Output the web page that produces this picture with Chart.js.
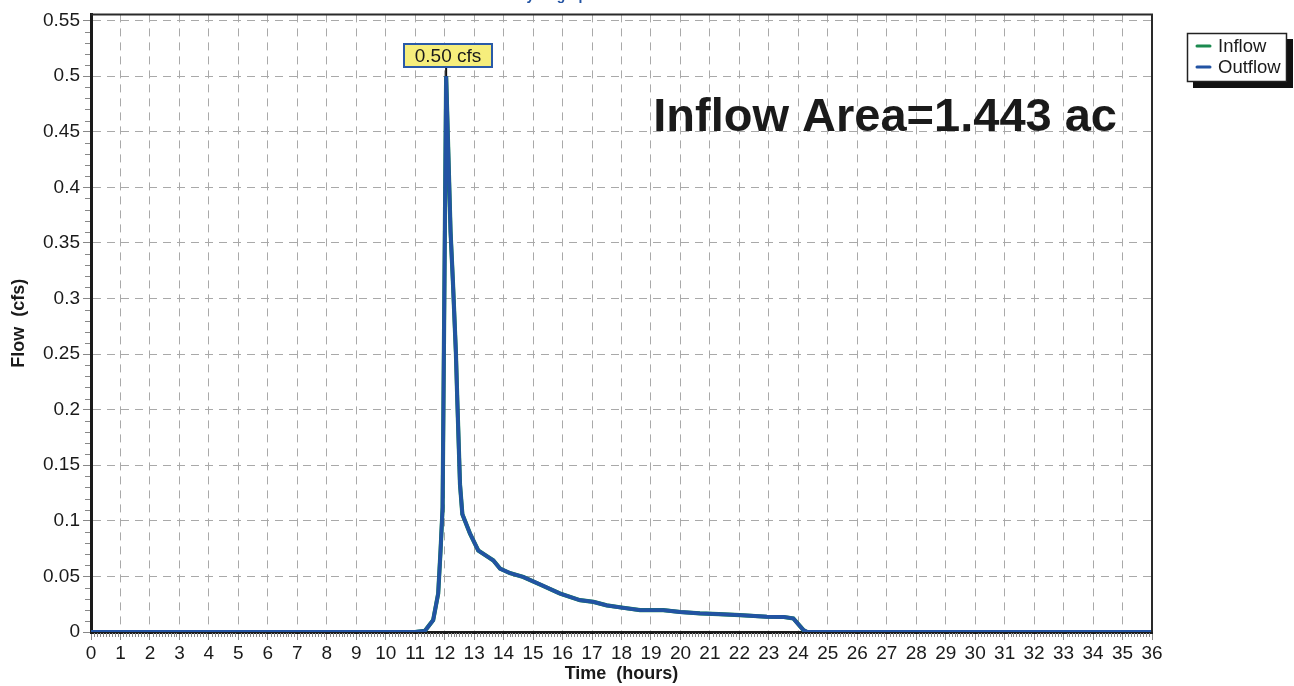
<!DOCTYPE html>
<html>
<head>
<meta charset="utf-8">
<script src="https://cdn.jsdelivr.net/npm/chart.js@4/dist/chart.umd.min.js"></script>
<style>
  html, body { margin: 0; padding: 0; background: #ffffff; }
  #wrap { position: relative; width: 1294px; height: 686px; }
  canvas { display: block; }
</style>
</head>
<body>
<div id="wrap"><canvas id="c" width="1294" height="686"></canvas></div>
<script>
// ---- data ----
const chartTitle = "Hydrograph";
const xTitle = "Time  (hours)";
const yTitle = "Flow  (cfs)";
const areaLabel = "Inflow Area=1.443 ac";
const peakLabel = "0.50 cfs";
const seriesNames = ["Inflow", "Outflow"];

const times = [0, 11.0, 11.33, 11.61, 11.78, 11.86, 11.93, 12.05, 12.2, 12.28, 12.38, 12.43, 12.52, 12.60, 12.86, 13.14, 13.5, 13.65, 13.88, 14.21, 14.67, 15.3, 15.91, 16.59, 17.05, 17.5, 18.0, 18.63, 19.42, 19.99, 20.66, 21.3, 22.02, 22.93, 23.5, 23.83, 24.17, 24.3, 36];
const inflow = [0, 0, 0.001, 0.0107, 0.0346, 0.073, 0.112, 0.50, 0.36, 0.315, 0.252, 0.2075, 0.133, 0.106, 0.0885, 0.0733, 0.067, 0.0644, 0.057, 0.053, 0.0495, 0.042, 0.0346, 0.0286, 0.0271, 0.024, 0.022, 0.0197, 0.0197, 0.018, 0.0167, 0.016, 0.0152, 0.0137, 0.0135, 0.0122, 0.0018, 0, 0];
const outflow = [0, 0, 0.001, 0.0107, 0.0346, 0.073, 0.112, 0.50, 0.36, 0.315, 0.252, 0.2075, 0.133, 0.106, 0.0885, 0.0733, 0.067, 0.0644, 0.057, 0.053, 0.0495, 0.042, 0.0346, 0.0286, 0.0271, 0.024, 0.022, 0.0197, 0.0197, 0.018, 0.0167, 0.016, 0.0152, 0.0137, 0.0135, 0.0122, 0.0018, 0, 0];

const xTicks = [0,1,2,3,4,5,6,7,8,9,10,11,12,13,14,15,16,17,18,19,20,21,22,23,24,25,26,27,28,29,30,31,32,33,34,35,36];
const yTicks = [0, 0.05, 0.1, 0.15, 0.2, 0.25, 0.3, 0.35, 0.4, 0.45, 0.5, 0.55];
const yTickLabels = ["0", "0.05", "0.1", "0.15", "0.2", "0.25", "0.3", "0.35", "0.4", "0.45", "0.5", "0.55"];

// ---- styles ----
const FONT = "'Liberation Sans', Arial, Helvetica, sans-serif";
const INFLOW_COLOR = "#1b8a4f";
const OUTFLOW_COLOR = "#2253a3";
const GRID_COLOR = "#a9a9a9";

const toPoints = (xs, ys) => xs.map((x, i) => ({ x: x, y: ys[i] }));

const extrasPlugin = {
  id: 'extras',
  afterDraw(chart) {
    const ctx = chart.ctx;
    const a = chart.chartArea;
    const xs = chart.scales.x, ys = chart.scales.y;
    ctx.save();

    // minor ticks x (every 0.1 h)
    ctx.strokeStyle = "#888";
    ctx.lineWidth = 1;
    ctx.beginPath();
    for (let i = 0; i <= 360; i++) {
      if (i % 10 === 0) continue;
      const px = Math.round(xs.getPixelForValue(i / 10)) + 0.5;
      ctx.moveTo(px, a.bottom + 1);
      ctx.lineTo(px, a.bottom + 5);
    }
    ctx.stroke();
    // minor ticks y (every 0.01)
    ctx.beginPath();
    for (let i = 0; i <= 55; i++) {
      if (i % 5 === 0) continue;
      const py = Math.round(ys.getPixelForValue(i / 100)) + 0.5;
      ctx.moveTo(a.left - 6, py);
      ctx.lineTo(a.left - 1, py);
    }
    ctx.stroke();

    // top & right frame
    ctx.strokeStyle = "#2a2a2a";
    ctx.lineWidth = 2;
    ctx.beginPath();
    ctx.moveTo(a.left, a.top);
    ctx.lineTo(a.right, a.top);
    ctx.lineTo(a.right, a.bottom);
    ctx.stroke();

    // partially visible title
    ctx.fillStyle = "#2253a3";
    ctx.font = "bold 14px " + FONT;
    ctx.textAlign = "center";
    ctx.textBaseline = "alphabetic";
    ctx.fillText(chartTitle, 556, 0);

    // area label
    ctx.fillStyle = "#1a1a1a";
    ctx.font = "bold 47px " + FONT;
    ctx.textAlign = "right";
    ctx.fillText(areaLabel, 1117, 131);

    // peak annotation
    let pk = 0;
    for (let i = 1; i < outflow.length; i++) if (outflow[i] > outflow[pk]) pk = i;
    const px = xs.getPixelForValue(times[pk]);
    const py = ys.getPixelForValue(outflow[pk]);
    const bw = 90, bh = 25;
    const bx = Math.round(px - bw / 2 + 2), by = Math.round(py - 8 - bh);
    ctx.strokeStyle = "#111";
    ctx.lineWidth = 2;
    ctx.beginPath();
    ctx.moveTo(px, by + bh);
    ctx.lineTo(px, py);
    ctx.stroke();
    ctx.fillStyle = "#f6ee7c";
    ctx.fillRect(bx, by, bw, bh);
    ctx.strokeStyle = "#2a5aa8";
    ctx.lineWidth = 2;
    ctx.strokeRect(bx + 1, by + 1, bw - 2, bh - 2);
    ctx.fillStyle = "#1a1a1a";
    ctx.font = "19px " + FONT;
    ctx.textAlign = "center";
    ctx.textBaseline = "middle";
    ctx.fillText(peakLabel, bx + bw / 2, by + bh / 2 + 1);

    // legend
    const lx = 1187, ly = 33, lw = 100, lh = 49;
    ctx.fillStyle = "#111";
    ctx.fillRect(lx + 6, ly + 6, lw, lh);
    ctx.fillStyle = "#fff";
    ctx.fillRect(lx, ly, lw, lh);
    ctx.strokeStyle = "#222";
    ctx.lineWidth = 1.5;
    ctx.strokeRect(lx + 0.5, ly + 0.5, lw - 1, lh - 1);
    const cols = [INFLOW_COLOR, OUTFLOW_COLOR];
    ctx.font = "18.5px " + FONT;
    ctx.textAlign = "left";
    ctx.textBaseline = "middle";
    seriesNames.forEach((n, i) => {
      const yy = ly + 13 + i * 21;
      ctx.strokeStyle = cols[i];
      ctx.lineWidth = 3;
      ctx.lineCap = "round";
      ctx.beginPath();
      ctx.moveTo(lx + 10, yy);
      ctx.lineTo(lx + 23, yy);
      ctx.stroke();
      ctx.fillStyle = "#1a1a1a";
      ctx.fillText(n, lx + 31, yy + 1);
    });
    ctx.restore();
  }
};

new Chart(document.getElementById('c'), {
  type: 'line',
  data: {
    datasets: [
      { label: seriesNames[0], data: toPoints(times, inflow), borderColor: INFLOW_COLOR, borderWidth: 4.2, pointRadius: 0, tension: 0, fill: false, order: 2 },
      { label: seriesNames[1], data: toPoints(times, outflow), borderColor: OUTFLOW_COLOR, borderWidth: 3.8, pointRadius: 0, tension: 0, fill: false, order: 1 }
    ]
  },
  options: {
    responsive: false,
    animation: false,
    events: [],
    layout: { padding: { top: 10, right: 142, left: 0, bottom: 0 } },
    plugins: { legend: { display: false }, tooltip: { enabled: false }, title: { display: false } },
    scales: {
      x: {
        type: 'linear',
        min: 0, max: 36,
        afterBuildTicks: (s) => { s.ticks = xTicks.map(v => ({ value: v })); },
        afterFit: (s) => { s.height = 54; },
        ticks: { autoSkip: false, maxRotation: 0, color: "#1a1a1a", font: { size: 19, family: FONT }, padding: 2, callback: (v) => String(v) },
        grid: { color: GRID_COLOR, lineWidth: 1, drawTicks: true, tickLength: 8, tickColor: "#888", tickWidth: 1 },
        border: { display: true, color: "#1a1a1a", width: 3, dash: [8, 6] },
        title: { display: true, text: xTitle, color: "#1a1a1a", font: { size: 18, weight: 'bold', family: FONT }, padding: { top: 0, bottom: 1 } }
      },
      y: {
        type: 'linear',
        min: 0, max: 0.5555,
        afterBuildTicks: (s) => { s.ticks = yTicks.map(v => ({ value: v })); },
        afterFit: (s) => { s.width = 91; },
        ticks: { color: "#1a1a1a", font: { size: 19, family: FONT }, padding: 3, callback: (v) => { const i = yTicks.findIndex(t => Math.abs(t - v) < 1e-9); return i >= 0 ? yTickLabels[i] : ''; } },
        grid: { color: GRID_COLOR, lineWidth: 1, drawTicks: true, tickLength: 8, tickColor: "#888", tickWidth: 1 },
        border: { display: true, color: "#1a1a1a", width: 3, dash: [8, 6] },
        title: { display: true, text: yTitle, color: "#1a1a1a", font: { size: 18, weight: 'bold', family: FONT }, padding: { top: 8, bottom: 0 } }
      }
    }
  },
  plugins: [extrasPlugin]
});
</script>
</body>
</html>
